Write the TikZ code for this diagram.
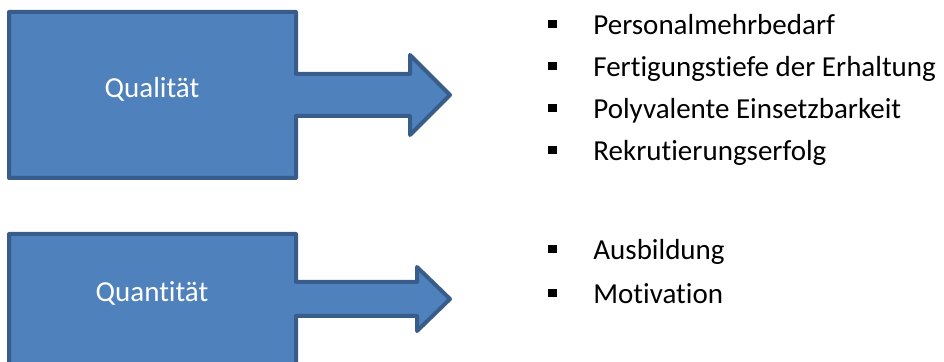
\documentclass[tikz,border=0pt]{standalone}
\usepackage{fontspec}
\setmainfont[Ligatures=NoCommon]{Carlito}
\usepackage{tikz}
\usetikzlibrary{positioning}
\definecolor{shapefill}{HTML}{4F81BD}
\definecolor{shapeline}{HTML}{385D8A}
\newcommand{\sqbullet}{\makebox[22.5pt][l]{\rule[3.3pt]{4.2pt}{4.2pt}}}

\begin{document}
\begin{tikzpicture}[x=0.5pt, y=-0.5pt, node distance=8pt, every node/.style={font=\fontsize{14.5}{17}\selectfont}, blockarrow/.style={draw=shapeline,fill=shapefill,line width=2pt,line join=round}, label/.style={text=white,anchor=base,inner sep=0pt}, item/.style={anchor=west,inner sep=0pt,text height=10pt,text depth=3pt}]
\useasboundingbox (0,0) rectangle (944,362);
\begin{scope}
\clip (0,0) rectangle (944,362);
\draw[blockarrow] (9,12) -- (296,12) -- (296,74) -- (410,74) -- (410,55) -- (450,95) -- (410,135) -- (410,116) -- (296,116) -- (296,178) -- (9,178) -- cycle;
\draw[blockarrow] (9,234) -- (296,234) -- (296,282) -- (417,282) -- (417,267) -- (450,299) -- (417,331) -- (417,316) -- (296,316) -- (296,400) -- (9,400) -- cycle;
\end{scope}
\node[label] (quality) at (152,98) {Qualität};
\node[label] (quantity) at (152,302) {Quantität};
\node[item] (staff) at (548,28) {\sqbullet Personalmehrbedarf};
\node[item,below=of staff.west,anchor=west,yshift=-13pt] (depth) {\sqbullet Fertigungstiefe der Erhaltung};
\node[item,below=of depth.west,anchor=west,yshift=-13pt] (versatile) {\sqbullet Polyvalente Einsetzbarkeit};
\node[item,below=of versatile.west,anchor=west,yshift=-13pt] (recruit) {\sqbullet Rekrutierungserfolg};
\node[item] (training) at (548,253) {\sqbullet Ausbildung};
\node[item,below=of training.west,anchor=west,yshift=-14pt] (motive) {\sqbullet Motivation};
\end{tikzpicture}
\end{document}
